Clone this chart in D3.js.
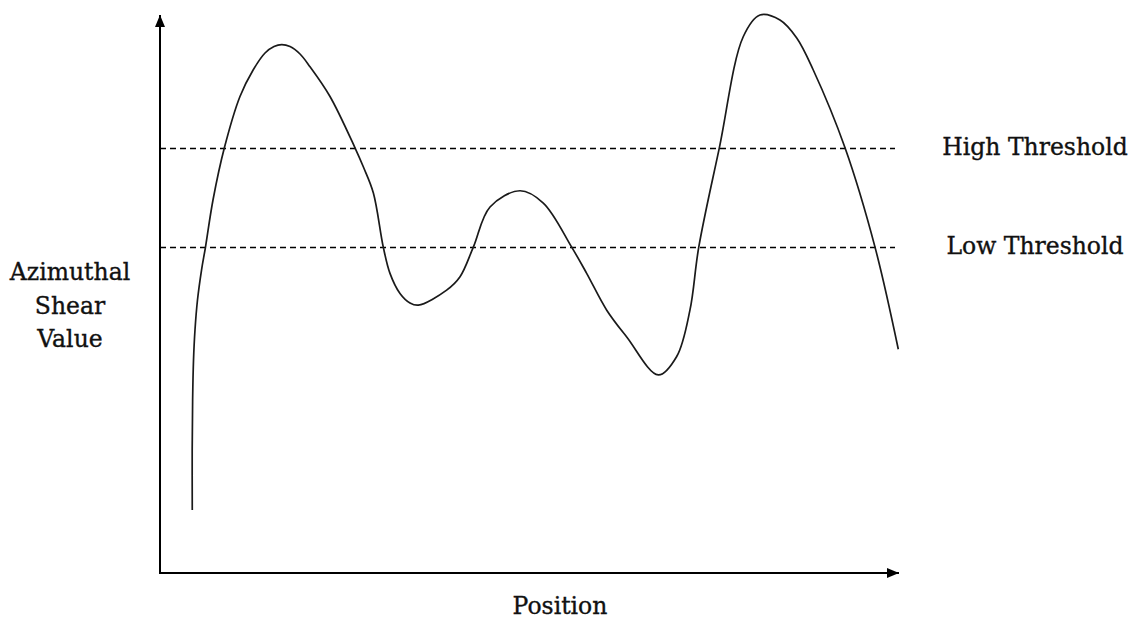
<!DOCTYPE html>
<html>
<head>
<meta charset="utf-8">
<script src="https://cdn.jsdelivr.net/npm/d3@7"></script>
<style>
html,body{margin:0;padding:0;background:#fff;}
svg{display:block;}
text{font-family:"DejaVu Serif","Liberation Serif",serif;fill:#111;stroke:#111;stroke-width:0.35px;}
</style>
</head>
<body>
<svg id="chart" width="1132" height="619"></svg>
<script>
// Data (position 0–100, value 0–100)
const positions = [4.39, 4.38, 4.44, 4.56, 4.76, 5.10, 5.65, 6.19, 7.21, 8.75, 10.88, 12.65, 14.29, 15.51, 16.56, 17.69, 19.05, 20.41, 23.13, 26.53, 27.66, 29.03, 30.38, 31.29, 32.65, 34.01, 35.14, 39.0, 40.82, 42.63, 44.9, 48.98, 52.15, 56.01, 58.05, 60.78, 63.5, 67.8, 70.3, 72.1, 73.3, 76.1, 79.35, 81.63, 84.35, 86.63, 88.88, 93.2, 97.28, 100.45];
const values    = [11.29, 22.04, 31.0, 38.17, 43.55, 48.92, 54.3, 58.42, 66.85, 76.16, 85.4, 90.1, 93.19, 94.35, 94.7, 94.35, 93.01, 90.73, 85.4, 76.2, 72.8, 68.1, 58.4, 53.7, 50.1, 48.4, 48.0, 50.7, 53.1, 58.4, 65.6, 68.5, 66.3, 58.4, 53.7, 47.1, 42.3, 35.5, 38.8, 47.1, 58.4, 76.2, 96.1, 100, 99.1, 95.88, 90.14, 76.2, 58.4, 40.09];
const thresholdNames  = ["High Threshold", "Low Threshold"];
const thresholdValues = [76.2, 58.4];
const yLabelLines = ["Azimuthal", "Shear", "Value"];
const xLabel = "Position";

const svg = d3.select("#chart");
const x = d3.scaleLinear().domain([0, 100]).range([160, 895]);
const y = d3.scaleLinear().domain([0, 100]).range([573, 15]);

const defs = svg.append("defs");
defs.append("marker").attr("id", "arrow")
  .attr("viewBox", "0 0 12 10").attr("refX", 12).attr("refY", 5)
  .attr("markerWidth", 12).attr("markerHeight", 10)
  .attr("markerUnits", "userSpaceOnUse").attr("orient", "auto")
  .append("path").attr("d", "M0,0 L12,5 L0,10 Z").attr("fill", "#000");

// axes
svg.append("line").attr("x1", x(0)).attr("y1", y(0)).attr("x2", x(0)).attr("y2", y(100))
  .attr("stroke", "#000").attr("stroke-width", 2).attr("marker-end", "url(#arrow)");
svg.append("line").attr("x1", x(0) - 1).attr("y1", y(0)).attr("x2", x(100) + 4).attr("y2", y(0))
  .attr("stroke", "#000").attr("stroke-width", 2).attr("marker-end", "url(#arrow)");

// thresholds
svg.selectAll(".thr").data(thresholdValues).join("line").attr("class", "thr")
  .attr("x1", x(0)).attr("x2", x(100))
  .attr("y1", d => Math.round(y(d)) + 0.5).attr("y2", d => Math.round(y(d)) + 0.5)
  .attr("stroke", "#000").attr("stroke-width", 1.3).attr("stroke-dasharray", "6,4");

svg.selectAll(".thrLabel").data(thresholdNames).join("text").attr("class", "thrLabel")
  .attr("x", 1035).attr("y", (d, i) => y(thresholdValues[i]) + 7)
  .attr("text-anchor", "middle").attr("font-size", 23.5).text(d => d);

// curve
const pts = positions.map((p, i) => [p, values[i]]);
const line = d3.line().x(d => x(d[0])).y(d => y(d[1])).curve(d3.curveCatmullRom.alpha(0.5));
svg.append("path").datum(pts).attr("d", line)
  .attr("fill", "none").attr("stroke", "#1a1a1a").attr("stroke-width", 1.7);

// labels
svg.selectAll(".yl").data(yLabelLines).join("text").attr("class", "yl")
  .attr("x", 70).attr("y", (d, i) => 280 + i * 33.5)
  .attr("text-anchor", "middle").attr("font-size", 23.5).text(d => d);
svg.append("text").attr("x", 560).attr("y", 614).attr("text-anchor", "middle")
  .attr("font-size", 23.5).text(xLabel);
</script>
</body>
</html>
